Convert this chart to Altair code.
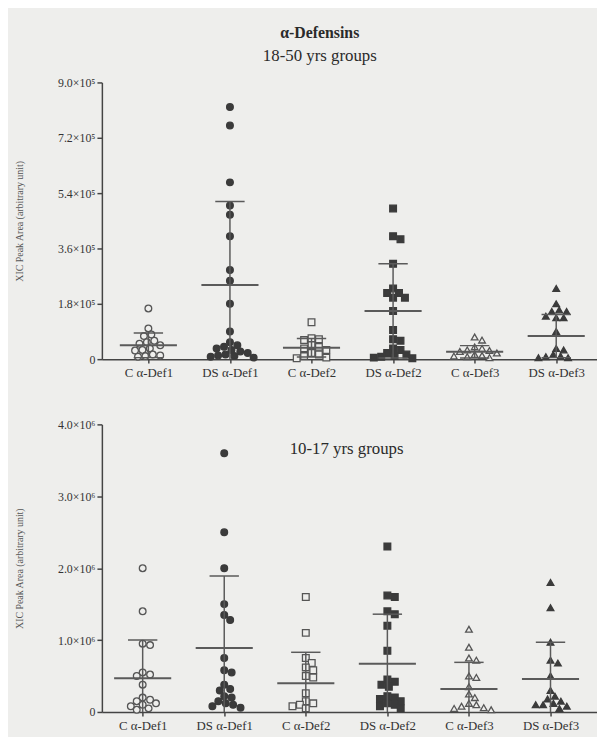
import json
import altair as alt
import pandas as pd

# ---------------- data ----------------
groups = ["C α-Def1", "DS α-Def1", "C α-Def2", "DS α-Def2", "C α-Def3", "DS α-Def3"]
shapes = ["circle", "circle", "square", "square", "triangle-up", "triangle-up"]
cohorts = ["C", "DS", "C", "DS", "C", "DS"]

# 18-50 yrs groups, values in units of 1e5
adult_c1 = [1.65, 1.0, 0.8, 0.75, 0.6, 0.55, 0.5, 0.45, 0.35, 0.3, 0.28, 0.15, 0.12, 0.1, 0.08]
adult_ds1 = [8.2, 7.6, 5.75, 5.0, 4.7, 4.0, 2.9, 2.55, 1.8, 0.9, 0.55, 0.45, 0.4, 0.35,
             0.3, 0.25, 0.2, 0.15, 0.12, 0.1, 0.08, 0.05]
adult_c2 = [1.2, 0.68, 0.65, 0.62, 0.45, 0.4, 0.35, 0.3, 0.2, 0.15, 0.1, 0.05, 0.03]
adult_ds2 = [4.9, 4.0, 3.9, 3.1, 2.3, 2.15, 2.15, 2.0, 2.0, 1.57, 0.95, 0.65, 0.6, 0.35,
             0.3, 0.2, 0.15, 0.1, 0.08, 0.05, 0.03]
adult_c3 = [0.72, 0.62, 0.4, 0.35, 0.3, 0.28, 0.25, 0.2, 0.15, 0.12, 0.1, 0.08, 0.05]
adult_ds3 = [2.3, 1.8, 1.6, 1.55, 1.55, 1.4, 1.35, 1.35, 0.9, 0.35, 0.3, 0.15, 0.1, 0.08, 0.05, 0.05]
adult_mean = [0.45, 2.41, 0.37, 1.57, 0.24, 0.75]
adult_sd = [0.40, 2.72, 0.30, 1.53, 0.20, 0.70]
adult_ticks = [0, 1.8, 3.6, 5.4, 7.2, 9.0]

# 10-17 yrs groups, values in units of 1e6
young_c1 = [2.0, 1.4, 0.95, 0.93, 0.55, 0.52, 0.5, 0.38, 0.2, 0.17, 0.15, 0.12, 0.1, 0.08, 0.05, 0.03]
young_ds1 = [3.6, 2.5, 2.0, 1.5, 1.35, 1.28, 0.75, 0.58, 0.55, 0.38, 0.32, 0.3, 0.22, 0.2,
             0.15, 0.12, 0.1, 0.08, 0.06]
young_c2 = [1.6, 1.1, 0.75, 0.68, 0.62, 0.58, 0.5, 0.48, 0.26, 0.15, 0.12, 0.1, 0.08, 0.05]
young_ds2 = [2.3, 1.62, 1.6, 1.4, 1.36, 1.2, 0.85, 0.45, 0.42, 0.38, 0.35, 0.22, 0.2, 0.18,
             0.15, 0.12, 0.1, 0.08, 0.05]
young_c3 = [1.15, 0.9, 0.75, 0.72, 0.5, 0.48, 0.35, 0.25, 0.2, 0.12, 0.1, 0.08, 0.06, 0.05, 0.03]
young_ds3 = [1.8, 1.45, 0.97, 0.72, 0.68, 0.5, 0.3, 0.22, 0.18, 0.15, 0.12, 0.1, 0.1, 0.08, 0.05]
young_mean = [0.47, 0.89, 0.40, 0.67, 0.32, 0.46]
young_sd = [0.53, 1.00, 0.43, 0.69, 0.37, 0.51]
young_ticks = [0, 1.0, 2.0, 3.0, 4.0]

# ---------------- style ----------------
BG = "#eeeeec"
DARK = "#3b3b3b"
LINE = "#5a5a5a"
FONT = "Liberation Serif"
W = 501
PX_PER_X = 82.6
COLLIDE = 6.8


def swarm(values, px_per_val):
    """Deterministic beeswarm: offsets (in px) so markers do not overlap too much."""
    placed = []
    offsets = [0.0] * len(values)
    order = sorted(range(len(values)), key=lambda i: -values[i])
    cands = [0.0]
    for k in range(1, 40):
        cands += [k * 1.5, -k * 1.5]
    for i in order:
        y = values[i] * px_per_val
        for c in cands:
            if all((c - px) ** 2 + (y - py) ** 2 >= COLLIDE ** 2 for px, py in placed):
                placed.append((c, y))
                offsets[i] = c
                break
    return offsets


def panel(series, means, sds, unit, ticks, height, xdom, sup, title=None, note=None):
    ymax = ticks[-1]
    px_per_val = height / ymax
    pts = []
    for gi, vals in enumerate(series):
        offs = swarm(vals, px_per_val)
        for v, o in zip(vals, offs):
            pts.append(dict(x=gi + o / PX_PER_X, v=v * unit, cohort=cohorts[gi], shape=shapes[gi]))
    pts = pd.DataFrame(pts)
    bars = pd.DataFrame(dict(
        g=list(range(6)),
        mean=[m * unit for m in means],
        lo=[(m - s) * unit for m, s in zip(means, sds)],
        hi=[(m + s) * unit for m, s in zip(means, sds)],
        m1=[g - 0.35 for g in range(6)], m2=[g + 0.35 for g in range(6)],
        c1=[g - 0.18 for g in range(6)], c2=[g + 0.18 for g in range(6)],
    ))

    xscale = alt.Scale(domain=xdom, nice=False, zero=False)
    yscale = alt.Scale(domain=[0, ymax * unit], nice=False)
    xaxis = alt.Axis(values=list(range(6)), labelExpr=json.dumps(groups) + "[datum.value]",
                     grid=False, title=None, tickSize=4, labelPadding=4, labelFontSize=13)
    yaxis = alt.Axis(values=[t * unit for t in ticks], grid=False,
                     title="XIC Peak Area (arbitrary unit)", tickSize=5,
                     labelExpr=("datum.value == 0 ? '0' : format(datum.value/%g, '.1f') + '×10%s'"
                                % (unit, sup)))

    points = alt.Chart(pts).mark_point(filled=False, opacity=1, strokeWidth=1.3, size=46).encode(
        x=alt.X("x:Q", scale=xscale, axis=xaxis),
        y=alt.Y("v:Q", scale=yscale, axis=yaxis),
        shape=alt.Shape("shape:N", scale=None),
        fill=alt.Fill("cohort:N", scale=alt.Scale(domain=["C", "DS"], range=[BG, DARK]), legend=None),
        stroke=alt.Stroke("cohort:N", scale=alt.Scale(domain=["C", "DS"], range=["#555555", DARK]), legend=None),
    )
    base = alt.Chart(bars)
    vline = base.mark_rule(color=LINE, strokeWidth=1.5, clip=True).encode(
        x=alt.X("g:Q", scale=xscale), y=alt.Y("lo:Q", scale=yscale), y2="hi:Q")
    mline = base.mark_rule(color=LINE, strokeWidth=2, clip=True).encode(
        x=alt.X("m1:Q", scale=xscale), x2="m2:Q", y=alt.Y("mean:Q", scale=yscale))
    cap_hi = base.mark_rule(color=LINE, strokeWidth=1.5, clip=True).encode(
        x=alt.X("c1:Q", scale=xscale), x2="c2:Q", y=alt.Y("hi:Q", scale=yscale))
    cap_lo = base.mark_rule(color=LINE, strokeWidth=1.5, clip=True).encode(
        x=alt.X("c1:Q", scale=xscale), x2="c2:Q", y=alt.Y("lo:Q", scale=yscale))
    layers = [points, vline, mline, cap_hi, cap_lo]
    if note is not None:
        txt = alt.Chart(pd.DataFrame(dict(x=[2.5], y=[note[1] * unit], t=[note[0]]))).mark_text(
            font=FONT, fontSize=17, color="#2a2a2a").encode(
            x=alt.X("x:Q", scale=xscale), y=alt.Y("y:Q", scale=yscale), text="t:N")
        layers.append(txt)
    ch = alt.layer(*layers).properties(width=W, height=height)
    if title is not None:
        ch = ch.properties(title=title)
    return ch


top = panel([adult_c1, adult_ds1, adult_c2, adult_ds2, adult_c3, adult_ds3],
            adult_mean, adult_sd, 1e5, adult_ticks, 280, [-0.57, 5.5], "⁵",
            title=alt.TitleParams(text="α-Defensins", subtitle="18-50 yrs groups",
                                  font=FONT, fontSize=16, fontWeight="bold", color="#2a2a2a",
                                  subtitleFont=FONT, subtitleFontSize=17, subtitleColor="#2a2a2a",
                                  subtitlePadding=7, anchor="middle", frame="group", dx=-30,
                                  offset=13))
bottom = panel([young_c1, young_ds1, young_c2, young_ds2, young_c3, young_ds3],
               young_mean, young_sd, 1e6, young_ticks, 291, [-0.5, 5.57], "⁶",
               note=("10-17 yrs groups", 3.65))

chart = alt.vconcat(top, bottom, spacing=39).properties(
    background=BG, padding={"left": 7, "top": 13, "right": 0, "bottom": 0}
).configure_view(stroke=None).configure_axis(
    domainColor="#444444", domainWidth=1.5, tickColor="#444444", tickWidth=1.5,
    labelFont=FONT, labelFontSize=12, labelColor="#333333",
    titleFont=FONT, titleFontSize=10, titleColor="#555555", titleFontWeight="normal",
    titlePadding=33,
)

chart.save("out.html", embed_options={"renderer": "svg", "actions": False})
